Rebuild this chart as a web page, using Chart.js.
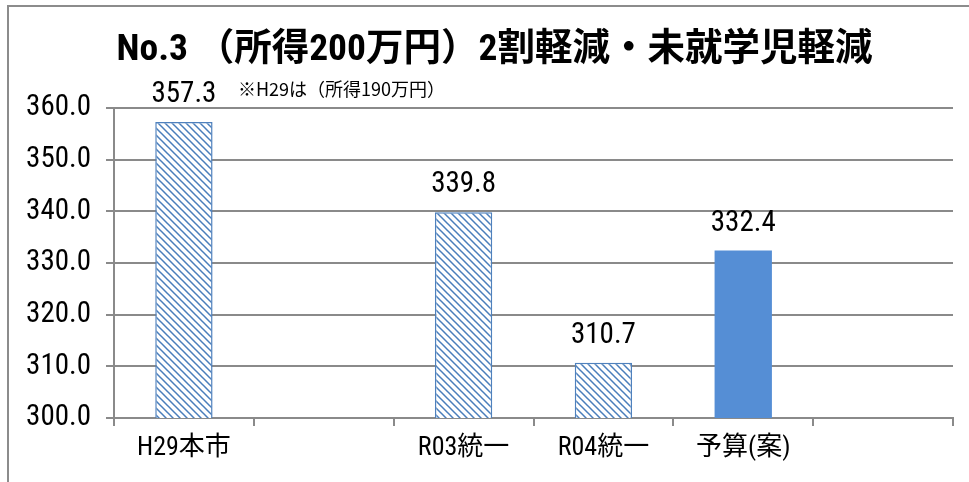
<!DOCTYPE html>
<html><head><meta charset="utf-8">
<script src="https://cdn.jsdelivr.net/npm/chart.js@4"></script>
<style>html,body{margin:0;padding:0;background:#fff}</style>
</head><body>
<canvas id="c" width="969" height="482"></canvas>
<script>
// ---- data ----
const categories = ['H29本市', '', 'R03統一', 'R04統一', '予算(案)', ''];
const values = [357.3, null, 339.8, 310.7, 332.4, null];
const hatched = [true, false, true, true, false, false];
const yMin = 300, yMax = 360, yStep = 10;
const titleText = 'No.3 （所得200万円）2割軽減・未就学児軽減';
const noteText = '※H29は（所得190万円）';

const NARROW = "'Roboto Condensed', 'Noto Sans CJK JP', sans-serif";
const GRID = '#8a8a8a';
const BLUE_EDGE = '#4f81bd';
const BLUE_SOLID = '#558ed5';

const canvas = document.getElementById('c');
const ctx = canvas.getContext('2d');

function makeHatch() {
  const s = 7;
  const c = document.createElement('canvas');
  c.width = s; c.height = s;
  const g = c.getContext('2d');
  g.fillStyle = '#ffffff'; g.fillRect(0, 0, s, s);
  g.strokeStyle = '#4a7ebb'; g.lineWidth = 1.5;
  g.beginPath();
  g.moveTo(-1, -1); g.lineTo(s + 1, s + 1);
  g.moveTo(-s - 1, -1); g.lineTo(1, s + 1);
  g.moveTo(s - 1, -1); g.lineTo(2 * s + 1, s + 1);
  g.stroke();
  return ctx.createPattern(c, 'repeat');
}
const hatch = makeHatch();

const frame = {
  id: 'frame',
  afterLayout(chart) {
    // centre the title over the area right of the y-axis labels
    if (chart.titleBlock) chart.titleBlock.left = chart.chartArea.left - 78;
  },
  beforeDraw(chart) {
    const c = chart.ctx;
    c.save();
    c.fillStyle = '#fff';
    c.fillRect(0, 0, chart.width, chart.height);
    c.strokeStyle = '#8c8c8c';
    c.lineWidth = 2;
    c.beginPath();
    c.moveTo(8, chart.height);
    c.lineTo(8, 6);
    c.lineTo(chart.width, 6);
    c.stroke();
    c.restore();
  }
};

const valueLabels = {
  id: 'valueLabels',
  afterDatasetsDraw(chart) {
    const c = chart.ctx;
    const meta = chart.getDatasetMeta(0);
    c.save();
    c.font = "29px " + NARROW;
    c.fillStyle = '#000';
    c.textAlign = 'center';
    c.textBaseline = 'alphabetic';
    meta.data.forEach((bar, i) => {
      const v = values[i];
      if (v === null) return;
      c.fillText(v.toFixed(1), bar.x, bar.y - 20);
    });
    const b0 = meta.data[0];
    c.font = "18px 'Noto Sans CJK JP', sans-serif";
    c.textAlign = 'left';
    c.fillText(noteText, b0.x + 54, chart.chartArea.top - 12);
    c.restore();
  }
};

new Chart(canvas, {
  type: 'bar',
  data: {
    labels: categories,
    datasets: [{
      data: values,
      backgroundColor: hatched.map(h => h ? hatch : BLUE_SOLID),
      borderColor: hatched.map(h => h ? BLUE_EDGE : BLUE_SOLID),
      borderWidth: hatched.map(h => h ? 1.5 : 0),
      categoryPercentage: 1,
      barPercentage: 0.41
    }]
  },
  options: {
    responsive: false,
    animation: false,
    devicePixelRatio: 1,
    layout: { padding: { left: 8, right: 16, top: 0, bottom: 0 } },
    plugins: {
      legend: { display: false },
      tooltip: { enabled: false },
      title: {
        display: true,
        text: titleText,
        color: '#000',
        font: { family: NARROW, size: 37.5, weight: 'bold' },
        padding: { top: 28, bottom: 35 }
      }
    },
    scales: {
      x: {
        afterFit(s) { s.height = 64; },
        grid: { drawOnChartArea: false, drawTicks: true, tickLength: 8, color: GRID, lineWidth: 2, offset: true },
        border: { display: true, color: GRID, width: 2 },
        ticks: { color: '#000', padding: 7, font: { family: NARROW, size: 26 }, maxRotation: 0, autoSkip: false }
      },
      y: {
        min: yMin, max: yMax,
        afterFit(s) { s.width = 106; },
        grid: { color: GRID, lineWidth: 2, tickLength: 8, drawTicks: true },
        border: { display: true, color: GRID, width: 2 },
        ticks: {
          stepSize: yStep, color: '#000', padding: 15,
          font: { family: NARROW, size: 29 },
          callback: v => Number(v).toFixed(1)
        }
      }
    }
  },
  plugins: [frame, valueLabels]
});
</script>
</body></html>
